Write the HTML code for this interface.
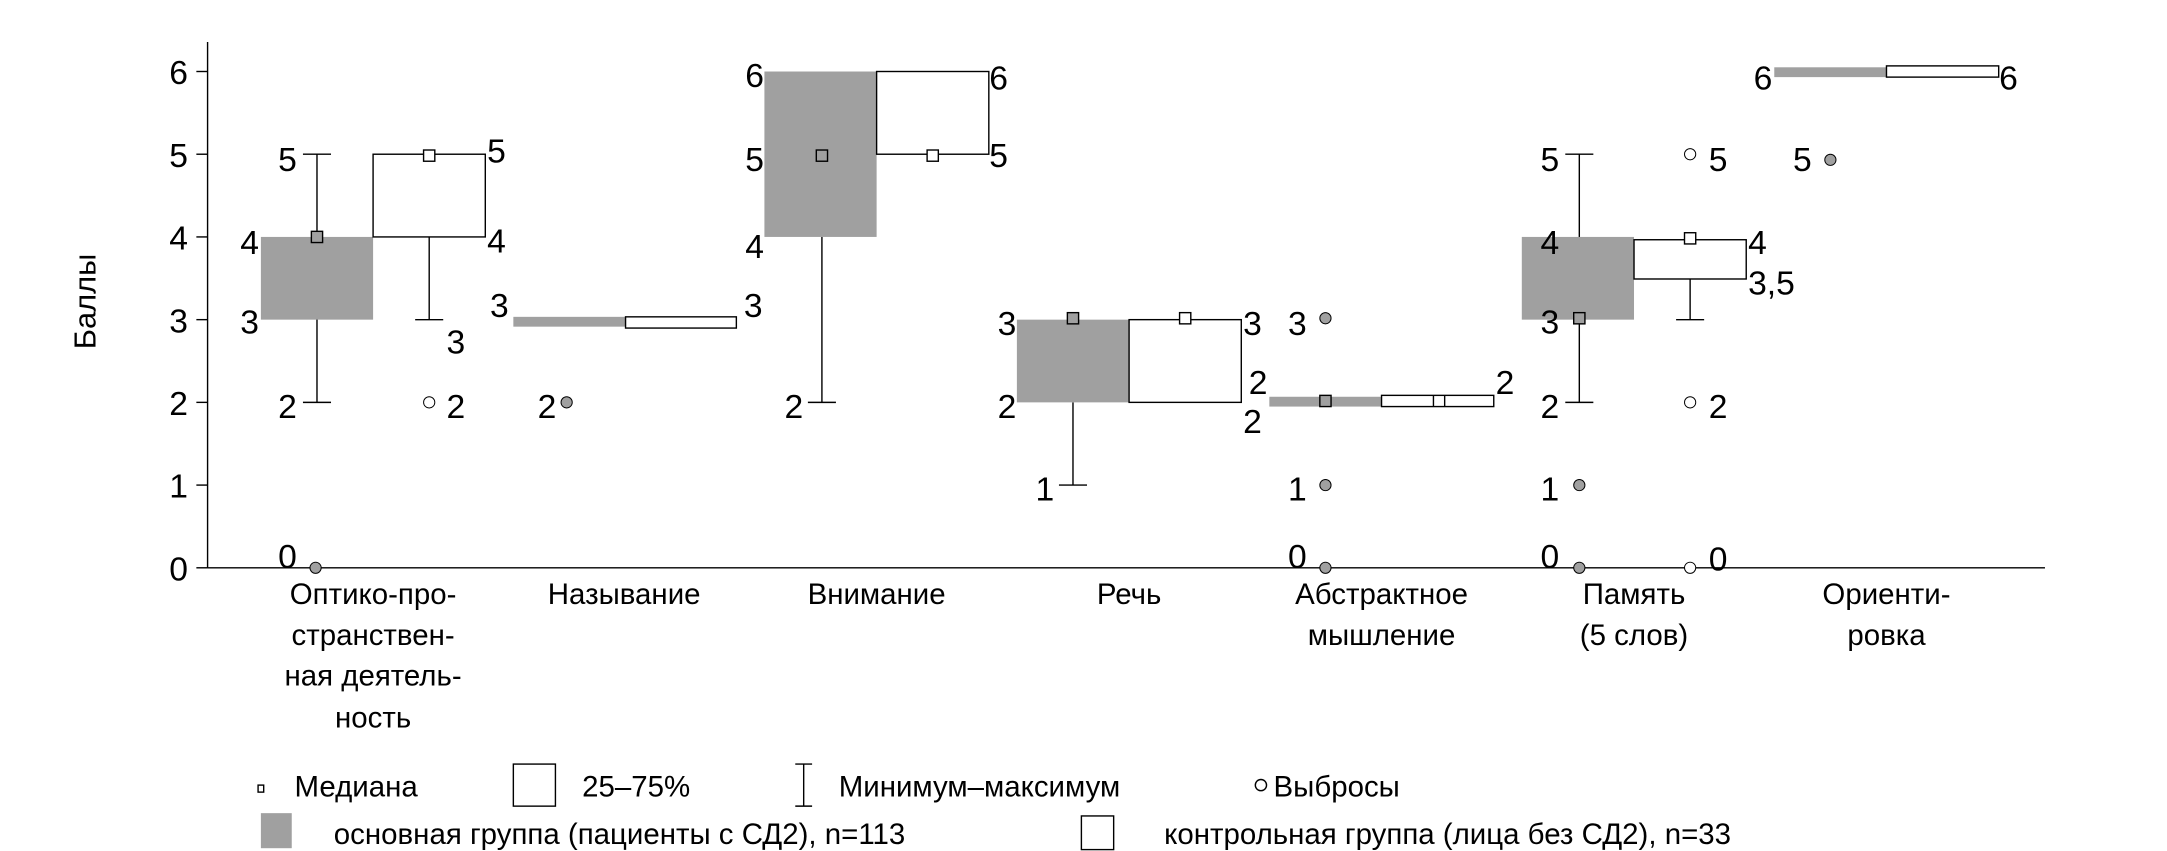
<!DOCTYPE html>
<html><head><meta charset="utf-8"><style>
html,body{margin:0;padding:0;background:#fff;}
svg{display:block;}
text{font-family:"Liberation Sans",sans-serif;fill:#000;}
</style></head><body>
<svg width="2167" height="851" viewBox="0 0 1545 607" preserveAspectRatio="none" xmlns="http://www.w3.org/2000/svg">
<g stroke="#000" stroke-width="1" fill="none">
<line x1="148" y1="30" x2="148" y2="405"/>
<line x1="148" y1="405" x2="1458" y2="405"/>
<line x1="140" y1="51" x2="148" y2="51"/><line x1="140" y1="110" x2="148" y2="110"/>
<line x1="140" y1="169" x2="148" y2="169"/><line x1="140" y1="228" x2="148" y2="228"/>
<line x1="140" y1="287" x2="148" y2="287"/><line x1="140" y1="346" x2="148" y2="346"/>
<line x1="140" y1="405" x2="148" y2="405"/>
</g>
<g font-size="24" text-anchor="end">
<text x="134" y="60">6</text><text x="134" y="119">5</text><text x="134" y="178">4</text>
<text x="134" y="237">3</text><text x="134" y="296">2</text><text x="134" y="355">1</text><text x="134" y="414">0</text>
</g>
<text x="68" y="215" font-size="22" text-anchor="middle" transform="rotate(-90 68 215)">Баллы</text>

<g stroke="#000" stroke-width="1">
<line x1="226" y1="110" x2="226" y2="287"/><line x1="216" y1="110" x2="236" y2="110"/><line x1="216" y1="287" x2="236" y2="287"/>
<rect x="186" y="169" width="80" height="59" fill="#a0a0a0" stroke="none"/>
<line x1="306" y1="169" x2="306" y2="228"/><line x1="296" y1="228" x2="316" y2="228"/>
<rect x="266" y="110" width="80" height="59" fill="#fff"/>
<rect x="222" y="165" width="8" height="8" fill="#a0a0a0"/>
<rect x="302" y="107" width="8" height="8" fill="#fff"/>
<circle cx="225" cy="405" r="4" fill="#a0a0a0" stroke-width="0.7"/>
<circle cx="306" cy="287" r="4" fill="#fff" stroke-width="0.7"/>
<rect x="366" y="226" width="80" height="7" fill="#a0a0a0" stroke="none"/>
<rect x="446" y="226" width="79" height="8" fill="#fff"/>
<circle cx="404" cy="287" r="4" fill="#a0a0a0" stroke-width="0.7"/>
<line x1="586" y1="169" x2="586" y2="287"/><line x1="576" y1="287" x2="596" y2="287"/>
<rect x="545" y="51" width="80" height="118" fill="#a0a0a0" stroke="none"/>
<rect x="625" y="51" width="80" height="59" fill="#fff"/>
<rect x="582" y="107" width="8" height="8" fill="#a0a0a0"/>
<rect x="661" y="107" width="8" height="8" fill="#fff"/>
<line x1="765" y1="287" x2="765" y2="346"/><line x1="755" y1="346" x2="775" y2="346"/>
<rect x="725" y="228" width="80" height="59" fill="#a0a0a0" stroke="none"/>
<rect x="805" y="228" width="80" height="59" fill="#fff"/>
<rect x="761" y="223" width="8" height="8" fill="#a0a0a0"/>
<rect x="841" y="223" width="8" height="8" fill="#fff"/>
<rect x="905" y="283" width="80" height="7" fill="#a0a0a0" stroke="none"/>
<rect x="985" y="282" width="80" height="8" fill="#fff"/>
<line x1="1022" y1="282" x2="1022" y2="290"/><line x1="1030" y1="282" x2="1030" y2="290"/>
<rect x="941" y="282" width="8" height="8" fill="#a0a0a0"/>
<circle cx="945" cy="227" r="4" fill="#a0a0a0" stroke-width="0.7"/>
<circle cx="945" cy="346" r="4" fill="#a0a0a0" stroke-width="0.7"/>
<circle cx="945" cy="405" r="4" fill="#a0a0a0" stroke-width="0.7"/>
<line x1="1126" y1="110" x2="1126" y2="287"/><line x1="1116" y1="110" x2="1136" y2="110"/><line x1="1116" y1="287" x2="1136" y2="287"/>
<rect x="1085" y="169" width="80" height="59" fill="#a0a0a0" stroke="none"/>
<line x1="1205" y1="199" x2="1205" y2="228"/><line x1="1195" y1="228" x2="1215" y2="228"/>
<rect x="1165" y="171" width="80" height="28" fill="#fff"/>
<rect x="1122" y="223" width="8" height="8" fill="#a0a0a0"/>
<rect x="1201" y="166" width="8" height="8" fill="#fff"/>
<circle cx="1126" cy="346" r="4" fill="#a0a0a0" stroke-width="0.7"/>
<circle cx="1126" cy="405" r="4" fill="#a0a0a0" stroke-width="0.7"/>
<circle cx="1205" cy="110" r="4" fill="#fff" stroke-width="0.7"/>
<circle cx="1205" cy="287" r="4" fill="#fff" stroke-width="0.7"/>
<circle cx="1205" cy="405" r="4" fill="#fff" stroke-width="0.7"/>
<rect x="1265" y="48" width="80" height="7" fill="#a0a0a0" stroke="none"/>
<rect x="1345" y="47" width="80" height="8" fill="#fff"/>
<circle cx="1305" cy="114" r="4" fill="#a0a0a0" stroke-width="0.7"/>
</g>

<g font-size="24" text-anchor="middle">
<text x="205" y="122">5</text><text x="178" y="181">4</text><text x="178" y="238">3</text><text x="205" y="298">2</text><text x="205" y="405">0</text>
<text x="354" y="116">5</text><text x="354" y="180">4</text><text x="325" y="252">3</text><text x="325" y="298">2</text>
<text x="356" y="226">3</text><text x="537" y="226">3</text><text x="390" y="298">2</text>
<text x="538" y="62">6</text><text x="538" y="122">5</text><text x="538" y="184">4</text><text x="566" y="298">2</text>
<text x="712" y="64">6</text><text x="712" y="119">5</text>
<text x="718" y="239">3</text><text x="718" y="298">2</text><text x="745" y="357">1</text>
<text x="893" y="239">3</text><text x="897" y="281">2</text><text x="893" y="309">2</text>
<text x="925" y="239">3</text><text x="925" y="357">1</text><text x="925" y="405">0</text><text x="1073" y="281">2</text>
<text x="1105" y="122">5</text><text x="1105" y="181">4</text><text x="1105" y="238">3</text><text x="1105" y="298">2</text><text x="1105" y="357">1</text><text x="1105" y="405">0</text>
<text x="1225" y="122">5</text><text x="1225" y="298">2</text><text x="1225" y="407">0</text><text x="1253" y="181">4</text><text x="1263" y="210">3,5</text>
<text x="1257" y="64">6</text><text x="1432" y="64">6</text><text x="1285" y="122">5</text>
</g>

<g font-size="21" text-anchor="middle">
<text x="266" y="431">Оптико-про-</text><text x="266" y="460">странствен-</text><text x="266" y="489">ная деятель-</text><text x="266" y="519">ность</text>
<text x="445" y="431">Называние</text>
<text x="625" y="431">Внимание</text>
<text x="805" y="431">Речь</text>
<text x="985" y="431">Абстрактное</text><text x="985" y="460">мышление</text>
<text x="1165" y="431">Память</text><text x="1165" y="460">(5 слов)</text>
<text x="1345" y="431">Ориенти-</text><text x="1345" y="460">ровка</text>
</g>

<g stroke="#000" stroke-width="1" fill="none">
<rect x="184" y="560" width="4" height="5"/>
<rect x="366" y="545" width="30" height="30" fill="#fff"/>
<line x1="573" y1="545" x2="573" y2="575"/><line x1="567" y1="545" x2="579" y2="545"/><line x1="567" y1="575" x2="579" y2="575"/>
<circle cx="899" cy="560" r="4"/>
<rect x="771" y="582" width="23" height="24"/>
</g>
<rect x="186" y="580" width="22" height="25" fill="#a0a0a0"/>
<g font-size="21">
<text x="210" y="568">Медиана</text>
<text x="415" y="568">25–75%</text>
<text x="598" y="568">Минимум–максимум</text>
<text x="908" y="568">Выбросы</text>
<text x="238" y="602">основная группа (пациенты с СД2), n=113</text>
<text x="830" y="602">контрольная группа (лица без СД2), n=33</text>
</g>
</svg>
</body></html>
